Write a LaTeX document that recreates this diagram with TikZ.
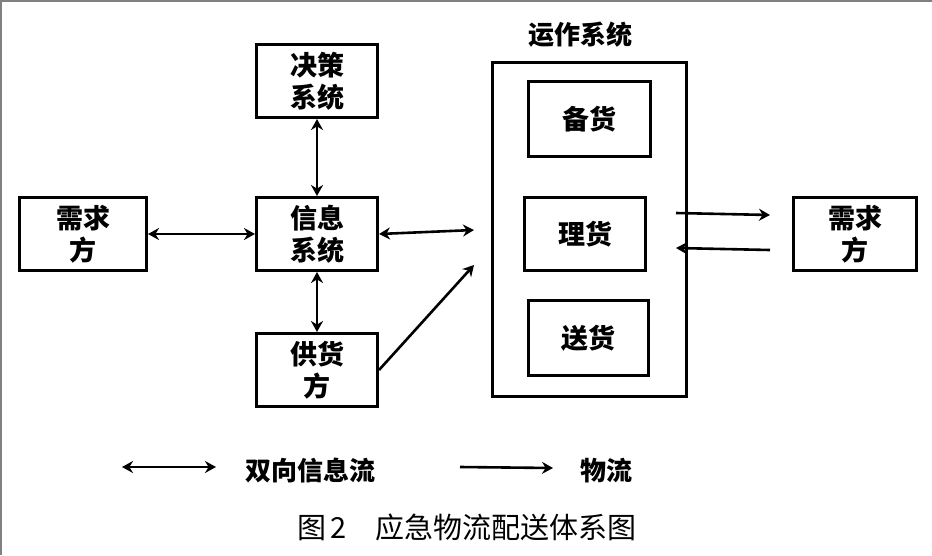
\documentclass[tikz,border=0pt]{standalone}
\usepackage{fontspec}
\usepackage{tikz}
\usetikzlibrary{arrows.meta}
\usetikzlibrary{positioning}
\setmainfont{Liberation Sans}
\newfontfamily\cjk{Noto Sans CJK SC}

\begin{document}
\begin{tikzpicture}[x=1pt,y=-1pt,
      box/.style={draw,line width=3pt,minimum width=121pt,minimum height=73pt,
        inner sep=0pt,align=center,font=\cjk\bfseries\fontsize{27}{32}\selectfont},
      info/.style={line width=2.6pt,{Stealth[length=11pt,width=12pt]}-{Stealth[length=11pt,width=12pt]}},
      flow/.style={line width=2.6pt,-{Stealth[length=11pt,width=12pt]}},
      lbl/.style={font=\cjk\bfseries\fontsize{26}{30}\selectfont},
      ]
      \useasboundingbox (0,0) rectangle (932,555);
      \draw[gray,line width=1.5pt] (0.75,555) -- (0.75,0.75) -- (932,0.75);

      % left part
      \node[box] (decide) at (317,81) {决策\\系统};
      \node[box] (info) at (317,234) {信息\\系统};
      \node[box] (supply) at (317,370) {供货\\方};
      \node[box,minimum width=127pt] (demandL) at (83,234) {需求\\方};

      % operating system
      \node[draw,line width=3pt,minimum width=194pt,minimum height=334pt] (ops) at (589,229) {};
      \node[lbl] (opslbl) at (580,35) {运作系统};
      \node[box,minimum width=122pt,minimum height=75pt] (stock) at (589,119) {备货};
      \node[box] (sort) at (585,234) {理货};
      \node[box,minimum width=120pt,minimum height=75pt] (deliver) at (588,338) {送货};

      \node[box,minimum width=123pt] (demandR) at (855,234) {需求\\方};

      \coordinate (infoend) at (474,230);
      \coordinate (supplyend) at (474,265);
      \coordinate (outA) at (676,213);
      \coordinate (outB) at (770,215);
      \coordinate (inA) at (770,250);
      \coordinate (inB) at (676,248);

      \draw[info] (decide) -- (info);
      \draw[info] (info) -- (supply);
      \draw[info] (demandL) -- (info);
      \draw[info] (info.east) -- (infoend);
      \draw[flow] (supply.east) -- (supplyend);
      \draw[flow] (outA) -- (outB);
      \draw[flow] (inA) -- (inB);

      % legend
      \coordinate (legA) at (122,467);
      \coordinate (legB) at (216,467);
      \coordinate (legC) at (460,467);
      \coordinate (legD) at (553,468);
      \draw[info] (legA) -- (legB);
      \draw[flow] (legC) -- (legD);
      \node[lbl] (infotxt) at (310,471) {双向信息流};
      \node[lbl] (flowtxt) at (606,471) {物流};

      \node[font=\cjk\fontsize{29}{34}\selectfont] (caption) at (467,527) {图\,2\quad 应急物流配送体系图};
\end{tikzpicture}
\end{document}
